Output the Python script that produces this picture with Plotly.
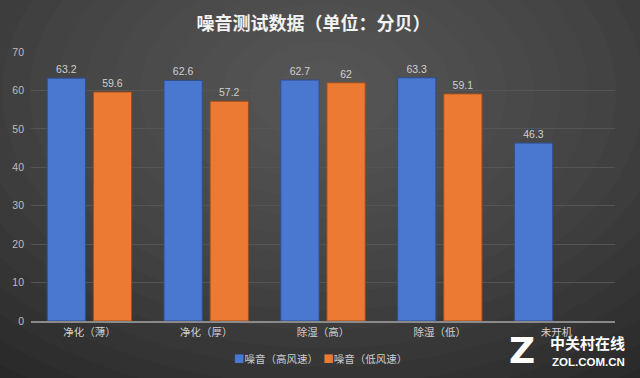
import plotly.graph_objects as go

categories = ["净化（薄）", "净化（厚）", "除湿（高）", "除湿（低）", "未开机"]
high_speed = [63.2, 62.6, 62.7, 63.3, 46.3]
low_speed = [59.6, 57.2, 62, 59.1, None]
series_names = ["噪音（高风速）", "噪音（低风速）"]
y_ticks = [0, 10, 20, 30, 40, 50, 60, 70]

FONT = "Noto Sans CJK SC"
BLUE = "#4a77cf"
ORANGE = "#ec7a33"

fig = go.Figure()
fig.add_bar(x=categories, y=high_speed, name=series_names[0],
            marker=dict(color=BLUE, line=dict(color="#2f4f8f", width=1)),
            text=[f"{v:g}" for v in high_speed], textposition="outside",
            textfont=dict(color="#cfcfcf", size=10.5, family="Liberation Sans"), cliponaxis=False)
fig.add_bar(x=categories, y=low_speed, name=series_names[1],
            marker=dict(color=ORANGE, line=dict(color="#9a4d1c", width=1)),
            text=[f"{v:g}" if v is not None else "" for v in low_speed], textposition="outside",
            textfont=dict(color="#cfcfcf", size=10.5, family="Liberation Sans"), cliponaxis=False)

# radial background glow (lighter toward the top centre)
shapes = []
n = 18
cx, cy = 0.5, 0.85
for i in range(n):
    f = i / n
    rx = 0.85 * (1 - f) + 0.03
    ry = 1.25 * (1 - f) + 0.05
    shapes.append(dict(type="circle", xref="paper", yref="paper", layer="below",
                       x0=cx - rx, x1=cx + rx, y0=cy - ry, y1=cy + ry,
                       fillcolor="rgba(255,255,255,0.014)", line=dict(width=0)))

fig.update_layout(
    width=640, height=378,
    paper_bgcolor="#282828", plot_bgcolor="rgba(0,0,0,0)",
    margin=dict(l=28, r=25, t=52, b=57),
    title=dict(text="<b>噪音测试数据（单位：分贝）</b>", x=0.49, xanchor="center", y=0.938, yanchor="middle",
               font=dict(family=FONT, size=18, color="#f2f2f2")),
    font=dict(family=FONT, color="#d0d0d0", size=11),
    barmode="group", bargap=0.21, bargroupgap=0.17,
    showlegend=False,
    xaxis=dict(showgrid=False, tickfont=dict(size=10.5, color="#d0d0d0"),
               showline=True, linecolor="#8a8a8a", linewidth=2, ticks=""),
    yaxis=dict(range=[0, 70], tickvals=y_ticks, showgrid=True, gridcolor="#555555",
               gridwidth=1, zeroline=False, tickfont=dict(size=10.5, color="#bdbdbd", family="Liberation Sans"),
               ticks="", ticklen=0, showline=False, ticklabelstandoff=6),
    shapes=shapes,
)

# legend drawn as text
fig.add_annotation(
    text=(f"<span style='color:{BLUE}'>■</span>{series_names[0]}　"
          f"<span style='color:{ORANGE}'>■</span>{series_names[1]}"),
    xref="paper", yref="paper", x=0.495, y=-0.138, xanchor="center", yanchor="middle",
    showarrow=False, font=dict(family=FONT, size=10.5, color="#cccccc"))

# watermark
fig.add_annotation(text="<b>中关村在线</b>", xref="paper", yref="paper", x=1.02, y=-0.08,
                   xanchor="right", yanchor="middle", showarrow=False,
                   font=dict(family=FONT, size=15, color="#ffffff"))
fig.add_annotation(text="<b>ZOL.COM.CN</b>", xref="paper", yref="paper", x=1.02, y=-0.152,
                   xanchor="right", yanchor="middle", showarrow=False,
                   font=dict(family="Liberation Sans", size=11.5, color="#ffffff"))
fig.add_annotation(text="<b>Z</b>", xref="paper", yref="paper", x=0.84, y=-0.11,
                   xanchor="center", yanchor="middle", showarrow=False,
                   font=dict(family="DejaVu Sans", size=36, color="#ffffff"))

fig.write_html("out.html", config={"displayModeBar": False},
               post_script="document.body.style.margin='0';document.body.style.overflow='hidden';")
